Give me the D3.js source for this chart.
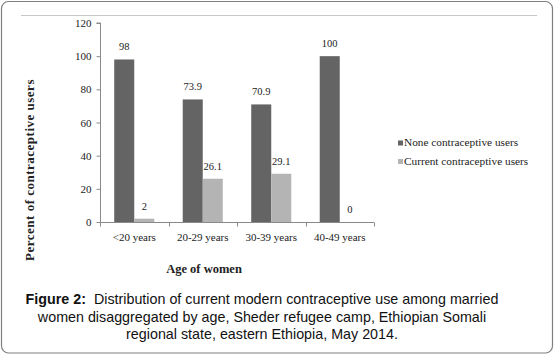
<!DOCTYPE html>
<html lang="en">
<head>
    <meta charset="UTF-8">
    <title>Contraceptive use by age</title>
    <style>
        body { margin: 0; background: #fff; }
        .serif { font-family: "Liberation Serif", "Times New Roman", serif; fill: #222; }
        .caption { font-family: "Liberation Sans", Arial, sans-serif; font-size: 14.3px; fill: #111; }
    </style>
</head>
<body>
    <svg width="557" height="355"></svg>

    <script src="https://d3js.org/d3.v7.min.js"></script>
    <script>
        const width = 557, height = 355;
        const serif = '"Liberation Serif", "Times New Roman", serif';

        // data
        const categories = ["<20 years", "20-29 years", "30-39 years", "40-49 years"];
        const noneUsers = [98, 73.9, 70.9, 100];
        const currentUsers = [2, 26.1, 29.1, 0];
        const seriesNames = ["None contraceptive users", "Current contraceptive users"];
        const seriesColors = ["#646464", "#b4b4b4"];
        const yTicks = [0, 20, 40, 60, 80, 100, 120];
        const valueLabels = [["98", "73.9", "70.9", "100"], ["2", "26.1", "29.1", "0"]];

        const svg = d3.select("svg")
            .attr("width", width)
            .attr("height", height);

        // frame
        svg.append("rect")
            .attr("x", 1.5).attr("y", 1.5)
            .attr("width", 551).attr("height", 351.5)
            .attr("rx", 7).attr("ry", 7)
            .attr("fill", "none")
            .attr("stroke", "#808080")
            .attr("stroke-width", 1.2);

        svg.append("line")
            .attr("x1", 21).attr("x2", 537)
            .attr("y1", 15.5).attr("y2", 15.5)
            .attr("stroke", "#c8c8c8");

        const x = d3.scaleBand()
            .domain(categories)
            .range([100, 374]);

        const sub = d3.scaleBand()
            .domain([0, 1])
            .range([0, x.bandwidth()])
            .paddingOuter(0.71)
            .paddingInner(0);

        const y = d3.scaleLinear()
            .domain([0, 120])
            .range([222, 23]);

        // axes
        const yAxis = svg.append("g")
            .attr("transform", "translate(100.5,0)")
            .call(d3.axisLeft(y).tickValues(yTicks).tickSize(4).tickPadding(5));
        yAxis.select(".domain").attr("stroke", "#8a8a8a").attr("d", `M-4,${y(120)}H0V${y(0)}`);
        yAxis.selectAll(".tick line").attr("stroke", "#8a8a8a");
        yAxis.selectAll(".tick text")
            .attr("fill", "#222")
            .style("font-family", serif)
            .style("font-size", "11px");

        const xAxis = svg.append("g")
            .attr("transform", `translate(0,${y(0) + 0.5})`)
            .call(d3.axisBottom(x).tickSize(0).tickPadding(11));
        xAxis.select(".domain").attr("stroke", "#8a8a8a").attr("d", `M100,0H374`);
        xAxis.selectAll(".tick text")
            .attr("fill", "#222")
            .style("font-family", serif)
            .style("font-size", "11px");
        // category boundary ticks
        xAxis.selectAll(".bound")
            .data(d3.range(categories.length + 1))
            .enter().append("line")
            .attr("x1", i => Math.round(100 + i * x.step()) + 0.5)
            .attr("x2", i => Math.round(100 + i * x.step()) + 0.5)
            .attr("y1", 0).attr("y2", 4)
            .attr("stroke", "#8a8a8a");

        // bars
        const series = [noneUsers, currentUsers];
        series.forEach((vals, s) => {
            svg.append("g").selectAll("rect")
                .data(vals)
                .enter().append("rect")
                .attr("x", (d, i) => x(categories[i]) + sub(s))
                .attr("y", d => y(d))
                .attr("width", sub.bandwidth())
                .attr("height", d => y(0) - y(d))
                .attr("fill", seriesColors[s]);

            svg.append("g").selectAll("text")
                .data(vals)
                .enter().append("text")
                .attr("class", "serif")
                .attr("x", (d, i) => x(categories[i]) + sub(s) + sub.bandwidth() / 2)
                .attr("y", d => y(d) - 9)
                .attr("text-anchor", "middle")
                .style("font-size", "10.5px")
                .text((d, i) => valueLabels[s][i]);
        });

        // legend
        const legend = svg.append("g");
        seriesNames.forEach((name, i) => {
            legend.append("rect")
                .attr("x", 398).attr("y", 140.5 + i * 18.5)
                .attr("width", 5).attr("height", 5)
                .attr("fill", seriesColors[i]);
            legend.append("text")
                .attr("class", "serif")
                .attr("x", 404).attr("y", 146 + i * 18.5)
                .style("font-size", "11.3px")
                .text(name);
        });

        // axis titles
        svg.append("text")
            .attr("class", "serif")
            .attr("transform", "translate(34,170) rotate(-90)")
            .attr("text-anchor", "middle")
            .style("font-size", "13px")
            .style("font-weight", "bold")
            .style("letter-spacing", "0.5px")
            .text("Percent of contraceptive users");

        svg.append("text")
            .attr("class", "serif")
            .attr("x", 204).attr("y", 273)
            .attr("text-anchor", "middle")
            .style("font-size", "12.5px")
            .style("font-weight", "bold")
            .text("Age of women");

        // caption
        const captionLines = [
            [["Figure 2:", true], ["  Distribution of current modern contraceptive use among married", false]],
            [["women disaggregated by age, Sheder refugee camp, Ethiopian Somali", false]],
            [["regional state, eastern Ethiopia, May 2014.", false]]
        ];
        const captionY = [304, 321.5, 339];
        captionLines.forEach((parts, i) => {
            const t = svg.append("text")
                .attr("class", "caption")
                .attr("x", 262).attr("y", captionY[i])
                .attr("text-anchor", "middle")
                .attr("xml:space", "preserve")
                .style("white-space", "pre");
            parts.forEach(p => {
                t.append("tspan")
                    .style("font-weight", p[1] ? "bold" : "normal")
                    .text(p[0]);
            });
        });
    </script>
</body>
</html>
